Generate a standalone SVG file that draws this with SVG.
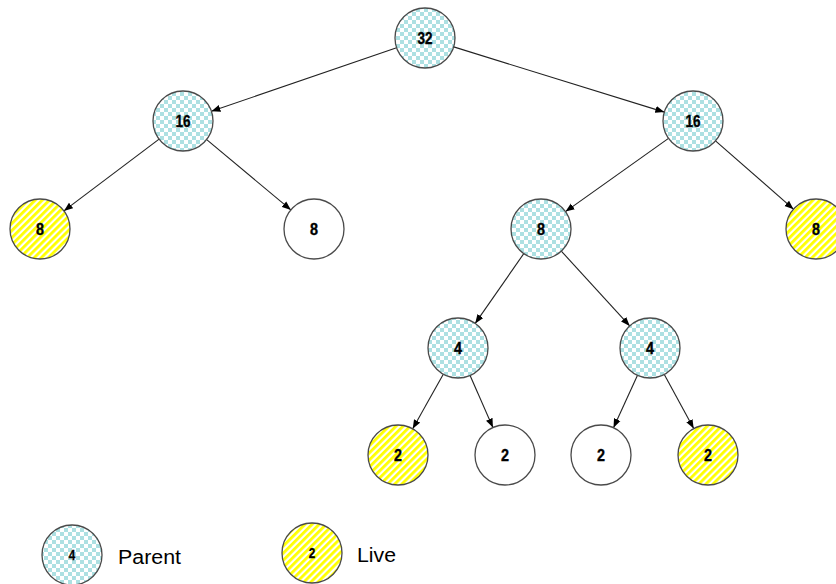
<svg xmlns="http://www.w3.org/2000/svg" width="836" height="584" viewBox="0 0 836 584">
<defs>
<pattern id="check" width="8" height="8" patternUnits="userSpaceOnUse">
<rect width="8" height="8" fill="#ffffff"/>
<rect width="4" height="4" fill="#ade0e2"/>
<rect x="4" y="4" width="4" height="4" fill="#ade0e2"/>
</pattern>
<pattern id="stripe" width="5" height="5" patternUnits="userSpaceOnUse" patternTransform="rotate(45)">
<rect width="5" height="5" fill="#ffffff"/>
<rect width="2.8" height="5" fill="#ffff00"/>
</pattern>
<marker id="arr" markerWidth="10" markerHeight="8" refX="9" refY="4" orient="auto" markerUnits="userSpaceOnUse">
<path d="M0,0.5 L9,4 L0,7.5 Z" fill="#000"/>
</marker>
<style>
.n{stroke:#4a4a4a;stroke-width:1.3}
.p{fill:url(#check)}
.l{fill:url(#stripe)}
.w{fill:#ffffff}
.t{font-family:"Liberation Sans",Arial,sans-serif;font-weight:bold;font-size:17px;text-anchor:middle;fill:#000;stroke:#000;stroke-width:0.4}
.ts{font-family:"Liberation Sans",Arial,sans-serif;font-weight:bold;font-size:14px;text-anchor:middle;fill:#000;stroke:#000;stroke-width:0.3}
.lg{font-family:"Liberation Sans",Arial,sans-serif;font-size:20px;fill:#000}
.e{stroke:#222;stroke-width:1.1;fill:none;marker-end:url(#arr)}
</style>
</defs>
<g id="connectors">
<line class="e" x1="396.6" y1="47.7" x2="211.4" y2="111.3"/>
<line class="e" x1="453.7" y1="46.9" x2="664.3" y2="112.1"/>
<line class="e" x1="159.1" y1="139.1" x2="63.9" y2="210.9"/>
<line class="e" x1="206.1" y1="139.1" x2="290.9" y2="209.9"/>
<line class="e" x1="668.5" y1="138.4" x2="565.5" y2="211.6"/>
<line class="e" x1="715.5" y1="140.8" x2="793.5" y2="209.2"/>
<line class="e" x1="523.8" y1="253.6" x2="475.2" y2="323.4"/>
<line class="e" x1="561.3" y1="251.1" x2="629.7" y2="325.9"/>
<line class="e" x1="443.3" y1="374.2" x2="412.7" y2="428.8"/>
<line class="e" x1="470.1" y1="375.5" x2="492.9" y2="427.5"/>
<line class="e" x1="637.5" y1="375.3" x2="613.5" y2="427.7"/>
<line class="e" x1="664.3" y1="374.4" x2="693.7" y2="428.6"/>
</g>
<g id="n32"><circle class="n p" cx="425" cy="38" r="30"/><text class="t" x="425" y="44" textLength="15" lengthAdjust="spacingAndGlyphs">32</text></g>
<g id="n16a"><circle class="n p" cx="183" cy="121" r="30"/><text class="t" x="183" y="127" textLength="15" lengthAdjust="spacingAndGlyphs">16</text></g>
<g id="n16b"><circle class="n p" cx="693" cy="121" r="30"/><text class="t" x="693" y="127" textLength="15" lengthAdjust="spacingAndGlyphs">16</text></g>
<g id="n8a"><circle class="n l" cx="40" cy="229" r="30"/><text class="t" x="40" y="235" textLength="8" lengthAdjust="spacingAndGlyphs">8</text></g>
<g id="n8b"><circle class="n w" cx="314" cy="229" r="30"/><text class="t" x="314" y="235" textLength="8" lengthAdjust="spacingAndGlyphs">8</text></g>
<g id="n8c"><circle class="n p" cx="541" cy="229" r="30"/><text class="t" x="541" y="235" textLength="8" lengthAdjust="spacingAndGlyphs">8</text></g>
<g id="n8d"><circle class="n l" cx="816" cy="229" r="30"/><text class="t" x="816" y="235" textLength="8" lengthAdjust="spacingAndGlyphs">8</text></g>
<g id="n4a"><circle class="n p" cx="458" cy="348" r="30"/><text class="t" x="458" y="354" textLength="8" lengthAdjust="spacingAndGlyphs">4</text></g>
<g id="n4b"><circle class="n p" cx="650" cy="348" r="30"/><text class="t" x="650" y="354" textLength="8" lengthAdjust="spacingAndGlyphs">4</text></g>
<g id="n2a"><circle class="n l" cx="398" cy="455" r="30"/><text class="t" x="398" y="461" textLength="8" lengthAdjust="spacingAndGlyphs">2</text></g>
<g id="n2b"><circle class="n w" cx="505" cy="455" r="30"/><text class="t" x="505" y="461" textLength="8" lengthAdjust="spacingAndGlyphs">2</text></g>
<g id="n2c"><circle class="n w" cx="601" cy="455" r="30"/><text class="t" x="601" y="461" textLength="8" lengthAdjust="spacingAndGlyphs">2</text></g>
<g id="n2d"><circle class="n l" cx="708" cy="455" r="30"/><text class="t" x="708" y="461" textLength="8" lengthAdjust="spacingAndGlyphs">2</text></g>
<g id="legend-parent"><circle class="n p" cx="72" cy="555" r="30"/><text class="ts" x="72" y="560" textLength="6.5" lengthAdjust="spacingAndGlyphs">4</text><text class="lg" x="118" y="564" textLength="63" lengthAdjust="spacingAndGlyphs">Parent</text></g>
<g id="legend-live"><circle class="n l" cx="312" cy="553" r="30"/><text class="ts" x="312" y="558" textLength="6.5" lengthAdjust="spacingAndGlyphs">2</text><text class="lg" x="357" y="562" textLength="39" lengthAdjust="spacingAndGlyphs">Live</text></g>
</svg>
